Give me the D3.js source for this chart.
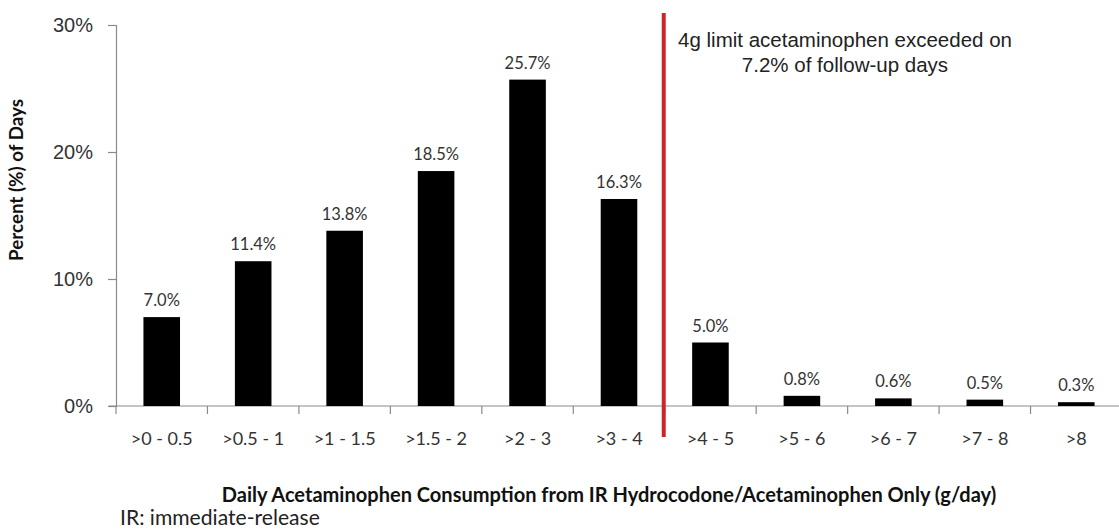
<!DOCTYPE html>
<html><head><meta charset="utf-8">
<script src="https://cdn.jsdelivr.net/npm/d3@7"></script>
<style>
html,body{margin:0;padding:0;background:#fff;}
svg{display:block;}
</style></head>
<body>
<svg id="chart" width="1119" height="529"></svg>
<script>
const categories = [">0 - 0.5", ">0.5 - 1", ">1 - 1.5", ">1.5 - 2", ">2 - 3", ">3 - 4", ">4 - 5", ">5 - 6", ">6 - 7", ">7 - 8", ">8"];
const values = [7.0, 11.4, 13.8, 18.5, 25.7, 16.3, 5.0, 0.8, 0.6, 0.5, 0.3];
const valueLabels = ["7.0%", "11.4%", "13.8%", "18.5%", "25.7%", "16.3%", "5.0%", "0.8%", "0.6%", "0.5%", "0.3%"];
const yTicks = [0, 10, 20, 30];
const limitAfter = ">3 - 4";
const annotation = ["4g limit acetaminophen exceeded on", "7.2% of follow-up  days"];
const xTitle = "Daily Acetaminophen Consumption from IR Hydrocodone/Acetaminophen Only (g/day)";
const yTitle = "Percent (%) of Days";
const footnote = "IR: immediate-release";

(function(){
const svg = d3.select("#chart");
const mLeft = 116, mRight = 1122, mTop = 25, mBottom = 406;

const x = d3.scaleBand().domain(categories).range([mLeft, mRight]).paddingInner(0.6).paddingOuter(0.3);
const xb = d3.scaleBand().domain(categories).range([mLeft, mRight]);
const y = d3.scaleLinear().domain([0, 30]).range([mBottom, mTop]);

const axisColor = "#8a8a8a";
const textColor = "#333";

function fit(t, w){ const L = t.node().getComputedTextLength(); const fs = parseFloat(t.style("font-size")); t.style("font-size", (fs * w / L) + "px"); }

// y axis
const yAxis = svg.append("g").attr("transform", `translate(${mLeft},0)`)
  .call(d3.axisLeft(y).tickValues(yTicks).tickFormat(d => d + "%").tickSizeOuter(0).tickSize(8).tickPadding(15));
yAxis.select(".domain").attr("stroke", axisColor).attr("stroke-width", 1.2);
yAxis.selectAll(".tick line").attr("stroke", axisColor).attr("stroke-width", 1.2);
yAxis.selectAll(".tick text").attr("fill", textColor).style("font-family", "'Liberation Sans', Arial, sans-serif").style("font-size", "20px");

// x axis
const xAxis = svg.append("g").attr("transform", `translate(0,${mBottom})`)
  .call(d3.axisBottom(xb).tickSize(0).tickPadding(26).tickSizeOuter(0));
xAxis.select(".domain").attr("stroke", axisColor).attr("stroke-width", 1.2).attr("d", `M${mLeft - 7},0H${mRight}`);
xAxis.selectAll(".tick text").attr("fill", textColor).style("font-family", "Lato, 'Open Sans', sans-serif").style("font-size", "18px");
const bounds = categories.map(c => xb(c)).concat([mRight]);
xAxis.selectAll("line.bt").data(bounds).join("line").attr("class", "bt")
  .attr("x1", d => d).attr("x2", d => d).attr("y1", 0).attr("y2", 8)
  .attr("stroke", axisColor).attr("stroke-width", 1.2);

// bars
svg.append("g").selectAll("rect").data(categories).join("rect")
  .attr("x", c => x(c)).attr("width", x.bandwidth())
  .attr("y", (c, i) => y(values[i])).attr("height", (c, i) => y(0) - y(values[i]))
  .attr("fill", "#000");

// value labels
svg.append("g").selectAll("text").data(categories).join("text")
  .attr("x", c => x(c) + x.bandwidth() / 2)
  .attr("y", (c, i) => y(values[i]) - 11)
  .attr("text-anchor", "middle")
  .attr("fill", textColor)
  .style("font-family", "Lato, 'Open Sans', sans-serif").style("font-size", "16.5px")
  .text((c, i) => valueLabels[i]);

// red limit line
const lx = xb(limitAfter) + xb.bandwidth() - 1;
svg.append("line").attr("x1", lx).attr("x2", lx).attr("y1", 13).attr("y2", 437)
  .attr("stroke", "#d0222a").attr("stroke-width", 4);

// annotation
const ann = svg.append("text").attr("text-anchor", "middle")
  .attr("fill", "#222").style("font-family", "'Liberation Sans', Arial, sans-serif").style("font-size", "20.5px");
ann.selectAll("tspan").data(annotation).join("tspan")
  .attr("x", 845).attr("y", (d, i) => 47 + i * 25).text(d => d);

// x title
const xt = svg.append("text").attr("x", 609).attr("y", 502).attr("text-anchor", "middle")
  .attr("fill", "#111").style("font-family", "Lato, 'Open Sans', sans-serif").style("font-weight", "bold").style("font-size", "17px")
  .text(xTitle);
fit(xt, 775);

// y title
const yt = svg.append("text").attr("transform", "translate(23,180) rotate(-90)").attr("text-anchor", "middle")
  .attr("fill", "#111").style("font-family", "Lato, 'Open Sans', sans-serif").style("font-weight", "bold").style("font-size", "16px")
  .text(yTitle);
fit(yt, 162);

// footnote
const fn = svg.append("text").attr("x", 120).attr("y", 525).attr("fill", "#222")
  .style("font-family", "Lato, 'Open Sans', sans-serif").style("font-size", "16px").text(footnote);
fit(fn, 200);
})();
</script>
</body></html>
